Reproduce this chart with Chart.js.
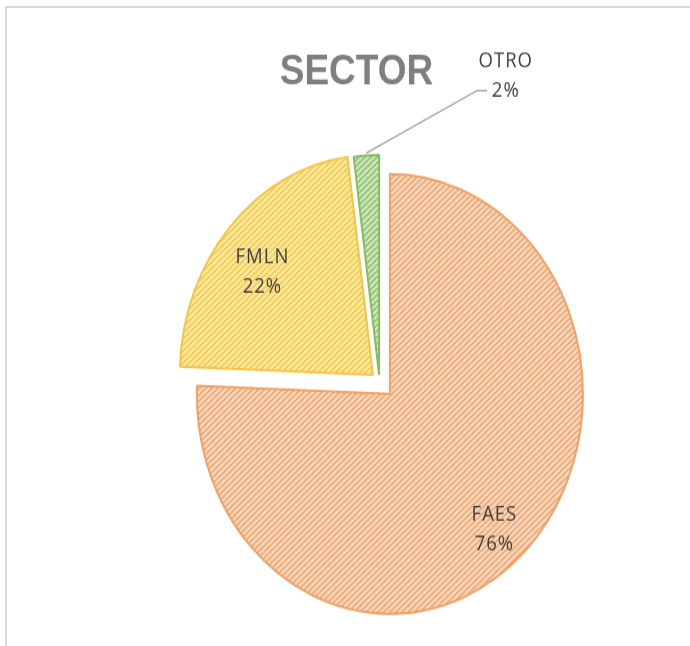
<!DOCTYPE html>
<html>
<head>
<meta charset="utf-8">
<script src="https://cdn.jsdelivr.net/npm/chart.js@4/dist/chart.umd.min.js"></script>
<style>
  html, body { margin: 0; padding: 0; background: #fff; overflow: hidden; }
  #wrap { position: relative; width: 690px; height: 646px; }
  #frame { position: absolute; left: 5px; top: 6px; width: 700px; height: 660px;
           border-top: 2px solid #dadada; border-left: 2px solid #dadada; }
  #chart { position: absolute; left: 0; top: 0; }
</style>
</head>
<body>
<div id="wrap">
  <div id="frame"></div>
  <!-- drawn at 690x567 then stretched to 646 tall, like the pasted excel picture -->
  <canvas id="chart" width="690" height="567" style="width:690px;height:646px"></canvas>
</div>
<script>
var chartTitle = 'SECTOR';
var sectorLabels = ['FAES', 'FMLN', 'OTRO'];
var sectorValues = [75.6, 22.3, 2.1];

var STRETCH = 646 / 567;

// excel style "wide upward diagonal" fill
function stripes(dark, light) {
	var size = 6;
	var tile = document.createElement('canvas');
	tile.width = size;
	tile.height = size;
	var tctx = tile.getContext('2d');
	var img = tctx.createImageData(size, size);
	var d = hex(dark), l = hex(light);
	for (var y = 0; y < size; y++) {
		for (var x = 0; x < size; x++) {
			var phase = ((x + 0.5) + (y + 0.5)) / size;
			var t = 0.5 + 0.5 * Math.cos(phase * 2 * Math.PI);
			var p = (y * size + x) * 4;
			img.data[p] = l[0] + (d[0] - l[0]) * t;
			img.data[p + 1] = l[1] + (d[1] - l[1]) * t;
			img.data[p + 2] = l[2] + (d[2] - l[2]) * t;
			img.data[p + 3] = 255;
		}
	}
	tctx.putImageData(img, 0, 0);
	var pat = document.createElement('canvas').getContext('2d').createPattern(tile, 'repeat');
	// squash so the stripes end up at 45 degrees after the css stretch
	if (pat.setTransform) pat.setTransform(new DOMMatrix().scale(1, 1 / STRETCH));
	return pat;
}
function hex(h) {
	return [parseInt(h.substr(1, 2), 16), parseInt(h.substr(3, 2), 16), parseInt(h.substr(5, 2), 16)];
}

var fills = [
	stripes('#f0a46c', '#fde4d2'),
	stripes('#f8c93c', '#fff1c4'),
	stripes('#8fc46e', '#dcedcf')
];
var borders = ['#f2a064', '#f6c446', '#86bd62'];

// move each slice out along its middle angle (pie explosion)
var explodePlugin = {
	id: 'explode',
	afterDatasetUpdate: function(chart, args, opts) {
		var amounts = opts.amounts || [];
		args.meta.data.forEach(function(arc, i) {
			var d = amounts[i] || 0;
			var mid = (arc.startAngle + arc.endAngle) / 2;
			arc.x += Math.cos(mid) * d;
			arc.y += Math.sin(mid) * d;
		});
	}
};

function spacedText(ctx, text, x, y, spacing) {
	ctx.letterSpacing = spacing + 'px';
	ctx.fillText(text, x + spacing / 2, y);
	ctx.letterSpacing = '0px';
}

var labelPlugin = {
	id: 'sliceLabels',
	afterDatasetsDraw: function(chart, args, opts) {
		var ctx = chart.ctx;
		var meta = chart.getDatasetMeta(0);
		var values = chart.data.datasets[0].data;
		var total = values.reduce(function(a, b) { return a + b; }, 0);

		ctx.save();
		// title
		ctx.font = 'bold 37px "Liberation Sans"';
		ctx.fillStyle = '#7f7f7f';
		ctx.textAlign = 'center';
		ctx.textBaseline = 'alphabetic';
		ctx.fillText(chartTitle, opts.titleX, opts.titleY);

		ctx.font = '18.5px "Open Sans"';
		ctx.fillStyle = '#404040';
		meta.data.forEach(function(arc, i) {
			var name = chart.data.labels[i];
			var pct = Math.round(values[i] / total * 100) + '%';
			var mid = (arc.startAngle + arc.endAngle) / 2;
			var R = arc.outerRadius;
			var cx, cy;
			if (arc.endAngle - arc.startAngle > 0.3) {
				cx = arc.x + Math.cos(mid) * R * 0.777;
				cy = arc.y + Math.sin(mid) * R * 0.777 + 9.5;
			} else {
				// small slice: label outside with a leader line
				var px = arc.x + Math.cos(mid) * (R + 2);
				var py = arc.y + Math.sin(mid) * (R + 2);
				var ex = px + 111, ey = py - 55;
				ctx.strokeStyle = '#a6a6a6';
				ctx.lineWidth = 1.5;
				ctx.beginPath();
				ctx.moveTo(px, py);
				ctx.lineTo(ex, ey);
				ctx.lineTo(ex + 10, ey);
				ctx.stroke();
				cx = ex + 28;
				cy = ey - 14;
			}
			spacedText(ctx, name, cx, cy - 12.8 + 6.6, 1);
			spacedText(ctx, pct, cx, cy + 12.8 + 6.6, 1);
		});
		ctx.restore();
	}
};

new Chart(document.getElementById('chart'), {
	type: 'pie',
	data: {
		labels: sectorLabels,
		datasets: [{
			data: sectorValues,
			backgroundColor: fills,
			borderColor: borders,
			borderWidth: 2
		}]
	},
	options: {
		responsive: false,
		animation: false,
		radius: 193,
		layout: { padding: { left: 69, top: 103, right: 0, bottom: 0 } },
		events: [],
		plugins: {
			legend: { display: false },
			tooltip: { enabled: false },
			title: { display: false },
			explode: { amounts: [15, 9, 6] },
			sliceLabels: { titleX: 356.5, titleY: 74 }
		}
	},
	plugins: [explodePlugin, labelPlugin]
});
</script>
</body>
</html>
